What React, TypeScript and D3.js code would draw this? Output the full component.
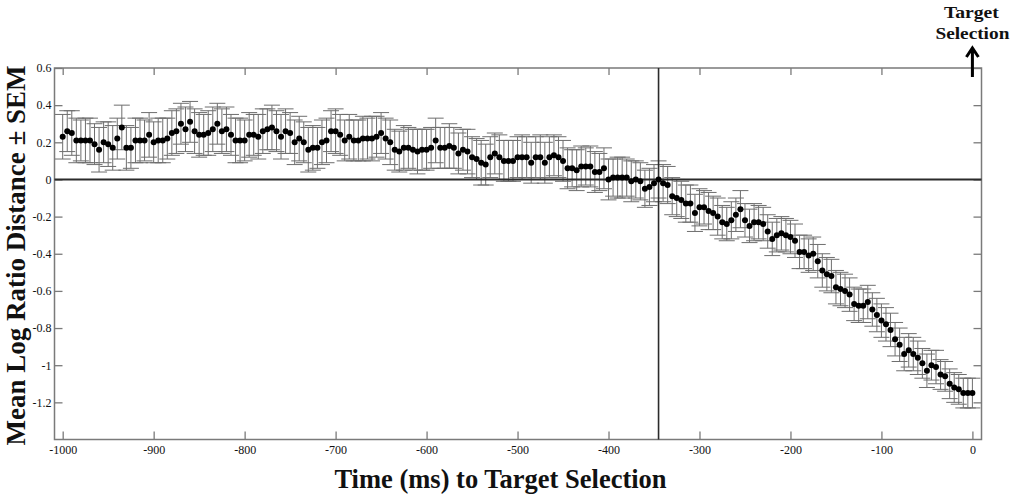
import * as d3 from "d3";
import { useEffect, useRef } from "react";

// mean log ratio distance, one point every 5 ms from -1000 to 0
const meanLogRatio = [
  0.23, 0.26, 0.25, 0.21, 0.21, 0.21, 0.21, 0.19, 0.16, 0.2,
  0.19, 0.17, 0.22, 0.28, 0.17, 0.17, 0.21, 0.21, 0.21, 0.24,
  0.2, 0.21, 0.21, 0.22, 0.25, 0.26, 0.3, 0.27, 0.31, 0.26,
  0.24, 0.24, 0.25, 0.27, 0.3, 0.26, 0.27, 0.24, 0.21, 0.21,
  0.21, 0.24, 0.24, 0.23, 0.26, 0.27, 0.28, 0.26, 0.23, 0.26,
  0.25, 0.2, 0.22, 0.2, 0.16, 0.17, 0.17, 0.2, 0.21, 0.26,
  0.26, 0.24, 0.21, 0.23, 0.21, 0.21, 0.22, 0.22, 0.22, 0.23,
  0.25, 0.22, 0.2, 0.16, 0.15, 0.17, 0.17, 0.16, 0.15, 0.16,
  0.16, 0.17, 0.21, 0.17, 0.17, 0.18, 0.17, 0.14, 0.16, 0.15,
  0.12, 0.11, 0.09, 0.08, 0.12, 0.14, 0.12, 0.1, 0.1, 0.1,
  0.12, 0.12, 0.12, 0.09, 0.12, 0.12, 0.09, 0.12, 0.13, 0.12,
  0.1, 0.06, 0.06, 0.05, 0.07, 0.07, 0.07, 0.04, 0.04, 0.06,
  0.0, 0.01, 0.01, 0.01, 0.01, -0.01, 0.0, -0.01, -0.05, -0.04,
  -0.02, 0.0, -0.02, -0.03, -0.09, -0.1, -0.11, -0.13, -0.13, -0.18,
  -0.15, -0.15, -0.17, -0.18, -0.2, -0.23, -0.24, -0.22, -0.19, -0.16,
  -0.22, -0.25, -0.23, -0.23, -0.24, -0.28, -0.32, -0.3, -0.29, -0.3,
  -0.31, -0.33, -0.39, -0.39, -0.41, -0.4, -0.44, -0.49, -0.51, -0.52,
  -0.58, -0.59, -0.6, -0.62, -0.67, -0.68, -0.68, -0.66, -0.7, -0.73,
  -0.76, -0.78, -0.81, -0.86, -0.89, -0.94, -0.92, -0.94, -0.96, -0.99,
  -1.03, -1.0, -1.01, -1.05, -1.06, -1.1, -1.12, -1.13, -1.15, -1.15,
  -1.15,
];

const sem = [
  0.12, 0.11, 0.12, 0.12, 0.11, 0.12, 0.12, 0.11, 0.12, 0.11,
  0.12, 0.12, 0.11, 0.12, 0.12, 0.11, 0.12, 0.12, 0.11, 0.12,
  0.11, 0.12, 0.12, 0.11, 0.12, 0.12, 0.11, 0.12, 0.11, 0.12,
  0.12, 0.11, 0.12, 0.12, 0.11, 0.12, 0.12, 0.11, 0.12, 0.12,
  0.11, 0.12, 0.11, 0.12, 0.12, 0.11, 0.12, 0.11, 0.12, 0.12,
  0.11, 0.12, 0.12, 0.11, 0.12, 0.12, 0.11, 0.12, 0.12, 0.11,
  0.12, 0.11, 0.11, 0.12, 0.11, 0.11, 0.12, 0.11, 0.12, 0.11,
  0.11, 0.11, 0.12, 0.11, 0.11, 0.12, 0.11, 0.11, 0.12, 0.11,
  0.11, 0.11, 0.12, 0.11, 0.11, 0.12, 0.11, 0.11, 0.11, 0.12,
  0.11, 0.11, 0.12, 0.11, 0.11, 0.11, 0.12, 0.11, 0.11, 0.11,
  0.11, 0.12, 0.11, 0.11, 0.11, 0.12, 0.11, 0.11, 0.11, 0.11,
  0.11, 0.11, 0.1, 0.11, 0.11, 0.1, 0.11, 0.11, 0.1, 0.11,
  0.11, 0.1, 0.11, 0.11, 0.1, 0.11, 0.1, 0.1, 0.1, 0.1,
  0.1, 0.1, 0.1, 0.1, 0.1, 0.1, 0.1, 0.1, 0.1, 0.1,
  0.1, 0.09, 0.1, 0.09, 0.1, 0.09, 0.09, 0.1, 0.09, 0.1,
  0.09, 0.09, 0.1, 0.09, 0.09, 0.09, 0.09, 0.09, 0.09, 0.09,
  0.09, 0.09, 0.09, 0.09, 0.09, 0.09, 0.09, 0.09, 0.09, 0.09,
  0.09, 0.09, 0.09, 0.09, 0.09, 0.09, 0.09, 0.09, 0.09, 0.09,
  0.09, 0.09, 0.09, 0.09, 0.09, 0.09, 0.09, 0.09, 0.09, 0.08,
  0.09, 0.08, 0.09, 0.08, 0.08, 0.08, 0.08, 0.08, 0.08, 0.08,
  0.08,
];

const startTime = -1000;
const stepMs = 5;
const xTicks = [-1000, -900, -800, -700, -600, -500, -400, -300, -200, -100, 0];
const yTicks = [0.6, 0.4, 0.2, 0, -0.2, -0.4, -0.6, -0.8, -1, -1.2];
const selectionTime = -345;

const W = 1015;
const H = 498;
const frame = { left: 54.5, right: 981.5, top: 68, bottom: 439.5 };
const serif = "'Liberation Serif', 'Times New Roman', serif";
const frameColor = "#7a7a7a";

const App = () => {
  const svgRef = useRef<SVGSVGElement>(null);

  useEffect(() => {
    const svg = d3.select(svgRef.current);
    svg.selectAll("*").remove();

    const x = d3.scaleLinear().domain([-1009, 10]).range([frame.left, frame.right]);
    const y = d3.scaleLinear().domain([-1.4, 0.6]).range([frame.bottom, frame.top]);

    const points = meanLogRatio.map((m, i) => ({
      t: startTime + i * stepMs,
      m,
      s: sem[i],
    }));

    // axes, ticks pointing inwards on all four sides
    const styleAxis = (g) => {
      g.select(".domain").remove();
      g.selectAll(".tick line").attr("stroke", frameColor).attr("stroke-width", 1.3);
      g.selectAll(".tick text")
        .attr("fill", "#111")
        .style("font-family", serif)
        .style("font-size", "12px");
    };

    svg.append("g")
      .attr("transform", `translate(0,${frame.bottom})`)
      .call(d3.axisBottom(x).tickValues(xTicks).tickSize(-8).tickPadding(6).tickFormat((d) => String(d)))
      .call(styleAxis);

    svg.append("g")
      .attr("transform", `translate(0,${frame.top})`)
      .call(d3.axisTop(x).tickValues(xTicks).tickSize(-7).tickFormat(() => ""))
      .call(styleAxis);

    svg.append("g")
      .attr("transform", `translate(${frame.left},0)`)
      .call(d3.axisLeft(y).tickValues(yTicks).tickSize(-8).tickPadding(3).tickFormat((d) => String(+(+d).toFixed(1))))
      .call(styleAxis);

    svg.append("g")
      .attr("transform", `translate(${frame.right},0)`)
      .call(d3.axisRight(y).tickValues(yTicks).tickSize(-8).tickFormat(() => ""))
      .call(styleAxis);

    // error bars
    const cap = 8;
    const bars = svg.append("g").attr("stroke", "#6e6e6e").attr("stroke-width", 1).attr("fill", "none");
    bars.selectAll("path")
      .data(points)
      .join("path")
      .attr("d", (d) => {
        const cx = x(d.t);
        const y1 = y(d.m + d.s);
        const y2 = y(d.m - d.s);
        return `M${cx},${y1}V${y2}M${cx - cap},${y1}H${cx + cap}M${cx - cap},${y2}H${cx + cap}`;
      });

    // frame
    svg.append("rect")
      .attr("x", frame.left)
      .attr("y", frame.top)
      .attr("width", frame.right - frame.left)
      .attr("height", frame.bottom - frame.top)
      .attr("fill", "none")
      .attr("stroke", frameColor)
      .attr("stroke-width", 1.5);

    // zero line and selection marker
    svg.append("line")
      .attr("x1", frame.left).attr("x2", frame.right)
      .attr("y1", y(0)).attr("y2", y(0))
      .attr("stroke", "#2b2b2b").attr("stroke-width", 2);

    svg.append("line")
      .attr("x1", x(selectionTime)).attr("x2", x(selectionTime))
      .attr("y1", frame.top).attr("y2", frame.bottom)
      .attr("stroke", "#2b2b2b").attr("stroke-width", 1.6);

    // means
    svg.append("g")
      .selectAll("circle")
      .data(points)
      .join("circle")
      .attr("cx", (d) => x(d.t))
      .attr("cy", (d) => y(d.m))
      .attr("r", 3)
      .attr("fill", "#000");

    // titles
    svg.append("text")
      .attr("x", 500.5)
      .attr("y", 488)
      .attr("text-anchor", "middle")
      .style("font-family", serif)
      .style("font-weight", "bold")
      .style("font-size", "26.5px")
      .attr("fill", "#111")
      .text("Time (ms) to Target Selection");

    svg.append("text")
      .attr("transform", `translate(25,255.5) rotate(-90)`)
      .attr("text-anchor", "middle")
      .style("font-family", serif)
      .style("font-weight", "bold")
      .style("font-size", "27px")
      .attr("fill", "#111")
      .text("Mean Log Ratio Distance ± SEM");

    // target selection annotation
    const ax = x(0);
    const note = svg.append("g")
      .attr("text-anchor", "middle")
      .style("font-family", serif)
      .style("font-weight", "bold")
      .style("font-size", "16px")
      .attr("fill", "#111");
    note.append("text").attr("x", ax - 1).attr("y", 17.5).attr("textLength", 55).attr("lengthAdjust", "spacingAndGlyphs").text("Target");
    note.append("text").attr("x", ax).attr("y", 38.5).attr("textLength", 74).attr("lengthAdjust", "spacingAndGlyphs").text("Selection");

    svg.append("path")
      .attr("d", `M${ax},77V48M${ax - 6},57L${ax},48L${ax + 6},57`)
      .attr("fill", "none")
      .attr("stroke", "#000")
      .attr("stroke-width", 3);
  }, []);

  return (
    <svg
      ref={svgRef}
      width={W}
      height={H}
      style={{ position: "absolute", left: 0, top: 0, background: "#fff" }}
    />
  );
};

export default App;
